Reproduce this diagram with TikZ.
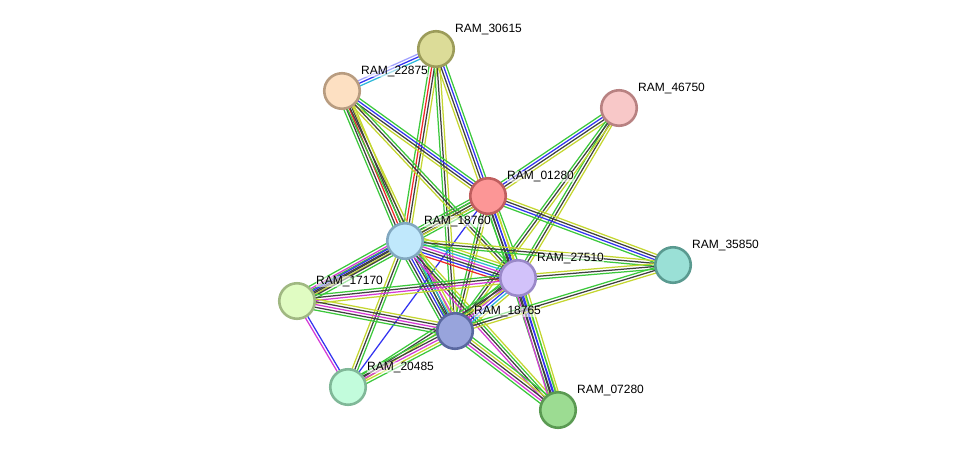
\documentclass[tikz,border=0pt]{standalone}
\usepackage{fontspec}
\setmainfont{Liberation Sans}
\usetikzlibrary{calc,backgrounds}
\definecolor{cG}{HTML}{3CC83C}
\definecolor{cK}{HTML}{404040}
\definecolor{cY}{HTML}{C4D630}
\definecolor{cB}{HTML}{3333F0}
\definecolor{cR}{HTML}{F02828}
\definecolor{cM}{HTML}{D53AD5}
\definecolor{cC}{HTML}{2EB8D8}
\definecolor{cL}{HTML}{A0A0FF}
\tikzset{
  prot/.style={circle, minimum size=35.5pt, inner sep=0pt, line width=2.6pt},
  lbl/.style={anchor=base west, inner xsep=0.5pt, inner ysep=0.5pt, font=\fontsize{12}{14}\selectfont, text=black, fill=white, fill opacity=0.55, text opacity=1},
  chan/.style={line width=1.25pt},
}
\newcommand\edge[3]{%
  \def\nn{0}%
  \foreach \c in {#3}{\pgfmathtruncatemacro\tmp{\nn+1}\global\let\nn\tmp}%
  \begin{pgfonlayer}{background}
  \foreach \c [count=\i] in {#3}{%
    \pgfmathsetmacro\off{(\i-(\nn+1)/2)*2.75}%
    \draw[chan, \c] ($(#1.center)!\off pt!90:(#2.center)$) -- ($(#2.center)!\off pt!-90:(#1.center)$);
  }%
  \end{pgfonlayer}%
}
\newcommand\prot[5]{% name, x, y, fill, stroke
  \definecolor{fill#1}{HTML}{#4}%
  \definecolor{line#1}{HTML}{#5}%
  \node[prot, fill=fill#1, draw=line#1] (#1) at (#2,#3) {};
  \node[lbl] (l#1) at ($(#2,#3)+(18.5,-16.5)$) {RAM\_#1};
}
\begin{document}
\begin{tikzpicture}[x=1pt,y=-1pt]
\useasboundingbox (0,0) rectangle (976,456);
\prot{30615}{436}{49}{DCDC98}{9C9C5A}
\prot{22875}{342}{91}{FDE0C2}{B89C80}
\prot{46750}{619}{108}{F8C8C8}{B88282}
\prot{01280}{488}{196}{FC9696}{C05E5E}
\prot{18760}{405}{241}{C0E8FC}{82A8C0}
\prot{35850}{673}{265}{9AE0D6}{5A9A90}
\prot{27510}{518}{278}{D2C2FA}{9A88C8}
\prot{17170}{297}{301}{E0FCC2}{A0B882}
\prot{18765}{455}{331}{98A4DC}{5A68A0}
\prot{20485}{348}{387}{C2FCDC}{80B898}
\prot{07280}{558}{410}{9CDC92}{5A9A52}
% edges
\edge{30615}{22875}{cL,cB,cC}
\edge{30615}{18760}{cG,cR,cK,cY}
\edge{30615}{18765}{cG,cK,cY}
\edge{30615}{01280}{cY,cK,cB,cG}
\edge{22875}{18760}{cG,cK,cR,cK,cY}
\edge{22875}{01280}{cY,cK,cB,cG}
\edge{22875}{27510}{cY,cK,cG}
\edge{22875}{18765}{cG,cK,cY}
\edge{46750}{01280}{cG,cB,cK,cY}
\edge{46750}{27510}{cG,cK,cY}
\edge{46750}{18765}{cG,cK,cY}
\edge{01280}{18760}{cG,cK,cY,cK,cG}
\edge{01280}{35850}{cG,cB,cK,cY}
\edge{01280}{27510}{cG,cK,cB,cY,cG}
\edge{01280}{07280}{cG,cK,cB,cY}
\edge{01280}{18765}{cG,cK,cY}
\edge{01280}{17170}{cG,cK,cY}
\edge{01280}{20485}{cB}
\edge{18760}{17170}{cG,cM,cB,cK,cK,cG}
\edge{18760}{27510}{cR,cB,cK,cM,cC,cG,cY}
\edge{18760}{35850}{cG,cK,cY}
\edge{18760}{18765}{cG,cK,cB,cK,cC,cM,cY}
\edge{18760}{20485}{cY,cK,cG}
\edge{18760}{07280}{cM,cK,cG,cY}
\edge{27510}{35850}{cG,cK,cY}
\edge{27510}{17170}{cG,cK,cM,cY}
\edge{27510}{18765}{cG,cK,cM,cB,cC,cY}
\edge{27510}{20485}{cG,cK,cY}
\edge{27510}{07280}{cM,cK,cB,cG,cY}
\edge{35850}{18765}{cG,cK,cY}
\edge{17170}{20485}{cM,cB}
\edge{17170}{18765}{cG,cK,cM,cK,cY}
\edge{18765}{20485}{cG,cK,cM,cY,cG}
\edge{18765}{07280}{cG,cM,cK,cY,cG}
\end{tikzpicture}
\end{document}
